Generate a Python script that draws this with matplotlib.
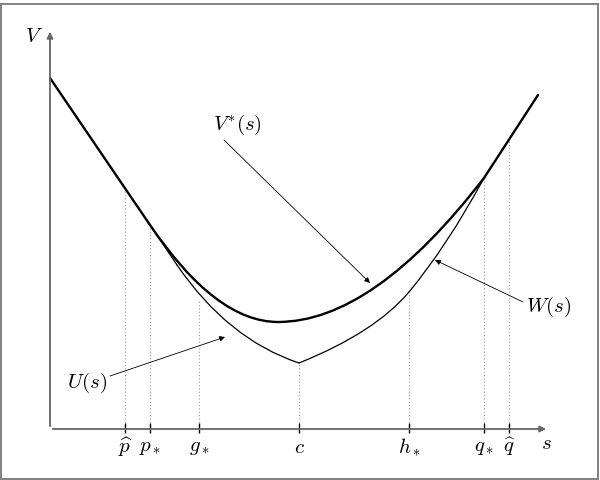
import matplotlib
matplotlib.use("Agg")
import matplotlib.pyplot as plt
from matplotlib.path import Path
from matplotlib.patches import PathPatch, Rectangle

plt.rcParams['mathtext.fontset'] = 'cm'

# sketch of value functions V*(s), U(s), W(s) against s

# tick positions on the s axis and their labels
tick_s = [75, 100, 149, 249, 359, 434, 459]
tick_labels = [r'$\widehat{p}$', r'$p_*$', r'$g_*$', r'$c$', r'$h_*$', r'$q_*$', r'$\widehat{q}$']
# curve height above each tick (top of the dotted guide)
guide_top = [241, 204, 128, 66, 137, 251, 290]

# straight outer pieces of V*
left_line_s = [0, 100]
left_line_v = [351, 204]
right_line_s = [434, 488]
right_line_v = [251, 334]

# U keeps following the left line a bit past p*
u_line_s = [100, 127]
u_line_v = [204, 164]

# quadratic bezier pieces: start, control, end
vstar_pts = [(100, 204), (166, 107), (228, 107), (323, 107), (434, 251)]
u_left_pts = [(127, 164), (178, 89.5), (249, 66)]
u_right_pts = [(249, 66), (325, 96.5), (359, 137)]
w_pts = [(359, 137), (397, 182.6), (434, 251)]

AX_COL = '#666666'
GUIDE_COL = '#999999'

fig = plt.figure(figsize=(6, 4.8), dpi=100)
ax = fig.add_axes([0, 0, 1, 1])
ax.set_xlim(-50, 550)
ax.set_ylim(-51, 429)
ax.axis('off')

# outer frame
ax.add_patch(Rectangle((-49, -50), 597, 475, fill=False, ec='#777777', lw=1.3, clip_on=False))


def bezier(pts, lw):
    codes = [Path.MOVETO] + [Path.CURVE3] * (len(pts) - 1)
    ax.add_patch(PathPatch(Path(pts, codes), fill=False, ec='black', lw=lw,
                           capstyle='round', joinstyle='round'))


# dotted guides
ax.vlines(tick_s, 0, guide_top, colors=GUIDE_COL, linestyles=(0, (1, 2)), lw=0.8)

# axes with arrow heads
ax.annotate('', xy=(499, 0), xytext=(0, 0),
            arrowprops=dict(arrowstyle='-|>', color=AX_COL, lw=1.3, mutation_scale=9))
ax.annotate('', xy=(0, 400), xytext=(0, 0),
            arrowprops=dict(arrowstyle='-|>', color=AX_COL, lw=1.3, mutation_scale=9))
ax.text(-16, 393, r'$V$', fontsize=15, ha='center', va='center')
ax.text(496, -14, r'$s$', fontsize=15, ha='center', va='center')

# tick marks + labels
ax.vlines(tick_s, -4, 6, colors='black', lw=1)
for s, lab in zip(tick_s, tick_labels):
    ax.text(s, -18, lab, fontsize=15, ha='center', va='center')

# curves
ax.plot(u_line_s, u_line_v, color='black', lw=0.9, solid_capstyle='round')
bezier(u_left_pts, 0.9)
bezier(u_right_pts, 0.9)
bezier(w_pts, 0.9)
ax.plot(left_line_s, left_line_v, color='black', lw=1.7, solid_capstyle='round')
ax.plot(right_line_s, right_line_v, color='black', lw=1.7, solid_capstyle='round')
bezier(vstar_pts, 1.7)

# labels with pointers
arr = dict(arrowstyle='-|>', color='black', lw=0.6, mutation_scale=8, shrinkA=0, shrinkB=0)
ax.text(187, 304, r'$V^{*}(s)$', fontsize=15, ha='center', va='center')
ax.annotate('', xy=(320, 146), xytext=(174, 289), arrowprops=arr)
ax.text(37, 46, r'$U(s)$', fontsize=15, ha='center', va='center')
ax.annotate('', xy=(175, 92), xytext=(60, 53), arrowprops=arr)
ax.text(499, 122, r'$W(s)$', fontsize=15, ha='center', va='center')
ax.annotate('', xy=(385, 169), xytext=(473, 127), arrowprops=arr)

fig.savefig('out.png', dpi=100)
